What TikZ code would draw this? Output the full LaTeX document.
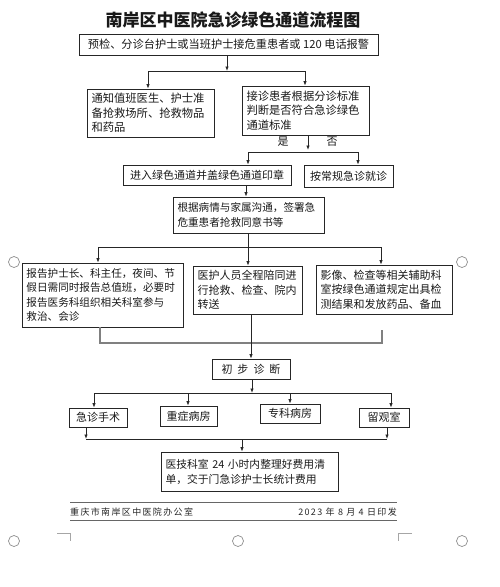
\documentclass[tikz,border=0pt]{standalone}
\usepackage{fontspec}
\setmainfont{Noto Sans CJK SC}
\newfontfamily\footfont{Noto Sans CJK SC}[LetterSpace=15]
\usetikzlibrary{arrows.meta}
\tikzset{
  box/.style={draw=black!85, line width=0.8pt, inner xsep=4pt, inner ysep=1pt, align=left, text=black!90, font=\fontsize{11}{14.5}\selectfont},
  conn/.style={draw=black!85, line width=0.8pt},
  arr/.style={conn, -{Latex[length=4.5pt,width=3.5pt]}},
  bracket/.style={draw=black!50, line width=1.2pt},
  handle/.style={draw=black!45, line width=0.7pt},
  lbl/.style={text=black!90, font=\fontsize{11}{13}\selectfont, inner sep=0pt},
}
\begin{document}
\begin{tikzpicture}[x=1pt,y=-1pt]
\useasboundingbox (0,0) rectangle (500,587);

% title
\node[text=black!90, font=\fontsize{17}{20}\selectfont\bfseries, inner sep=0pt] (title) at (233,20) {南岸区中医院急诊绿色通道流程图};

% boxes
\node[box, minimum width=299pt, minimum height=21pt, align=center, font=\fontsize{11.2}{14}\selectfont] (b1) at (228.5,44.5) {预检、分诊台护士或当班护士接危重患者或 120 电话报警};
\node[box, minimum width=127pt, minimum height=48pt, text width=118pt, font=\fontsize{11.3}{14.5}\selectfont] (b2) at (150.5,113) {通知值班医生、护士准\\备抢救场所、抢救物品\\和药品};
\node[box, minimum width=127pt, minimum height=49pt, text width=118pt, font=\fontsize{11.3}{14.5}\selectfont] (b3) at (305.5,110.5) {接诊患者根据分诊标准\\判断是否符合急诊绿色\\通道标准};
\node[box, minimum width=168pt, minimum height=20pt, align=center] (b4) at (207,175) {进入绿色通道并盖绿色通道印章};
\node[box, minimum width=89pt, minimum height=22pt, align=center] (b5) at (348.5,176) {按常规急诊就诊};
\node[box, minimum width=151pt, minimum height=36pt, text width=142pt, font=\fontsize{10.6}{14.5}\selectfont] (b6) at (248.5,215) {根据病情与家属沟通，签署急\\危重患者抢救同意书等};
\node[box, minimum width=161pt, minimum height=64pt, text width=152pt, font=\fontsize{10.6}{14.6}\selectfont] (b7) at (102.5,295) {报告护士长、科主任，夜间、节\\假日需同时报告总值班，必要时\\报告医务科组织相关科室参与\\救治、会诊};
\node[box, minimum width=109pt, minimum height=48pt, text width=100pt] (b8) at (247.5,290) {医护人员全程陪同进\\行抢救、检查、院内\\转送};
\node[box, minimum width=136pt, minimum height=49pt, text width=127pt] (b9) at (384,289.5) {影像、检查等相关辅助科\\室按绿色通道规定出具检\\测结果和发放药品、备血};
\node[box, minimum width=78pt, minimum height=20pt, align=center] (b10) at (251,369) {初\hspace{5pt}步\hspace{5pt}诊\hspace{5pt}断};
\node[box, minimum width=58pt, minimum height=19pt, align=center] (b11) at (98,417.5) {急诊手术};
\node[box, minimum width=57pt, minimum height=20pt, align=center] (b12) at (188.5,416) {重症病房};
\node[box, minimum width=60pt, minimum height=19pt, align=center] (b13) at (290,413.5) {专科病房};
\node[box, minimum width=50pt, minimum height=19pt, align=center] (b14) at (384,417.5) {留观室};
\node[box, minimum width=177pt, minimum height=39pt, text width=168pt, font=\fontsize{10.8}{15}\selectfont] (b15) at (249.5,471.5) {医技科室 24 小时内整理好费用清\\单，交于门急诊护士长统计费用};

% labels
\node[lbl] (yes) at (283,142) {是};
\node[lbl] (no) at (332,142) {否};

% connectors: b1 -> b2, b3
\coordinate (h1l) at (148,71);
\coordinate (h1r) at (305,71);
\coordinate (j1) at (227,71);
\draw[arr] (j1 |- b1.south) -- (j1);
\draw[conn] (h1l) -- (h1r);
\draw[arr] (h1l) -- (h1l |- b2.north);
\draw[arr] (h1r) -- (h1r |- b3.north);

% b3 -> b4, b5
\coordinate (j2) at (308,150);
\coordinate (h2l) at (248,152);
\coordinate (h2r) at (358,152);
\draw[arr] (j2 |- b3.south) -- (j2);
\draw[conn] (h2l) -- (h2r);
\draw[arr] (h2l) -- (h2l |- b4.north);
\draw[arr] (h2r) -- (h2r |- b5.north);

% b4 -> b6
\coordinate (j3) at (246,190);
\draw[arr] (j3 |- b4.south) -- (j3 |- b6.north);

% b6 -> b7, b8, b9
\coordinate (h3l) at (98,247);
\coordinate (h3m) at (248,247);
\coordinate (h3r) at (381,247);
\draw[conn] (h3m |- b6.south) -- (h3m);
\draw[conn] (h3l) -- (h3r);
\draw[arr] (h3l) -- (h3l |- b7.north);
\draw[arr] (h3m) -- (h3m |- b8.north);
\draw[arr] (h3r) -- (h3r |- b9.north);

% bracket under b7 .. b9
\coordinate (k1) at (100,343);
\coordinate (k2) at (382,343);
\coordinate (k2t) at (382,330);
\draw[bracket] (k1 |- b7.south) -- (k1) -- (k2) -- (k2t);

% b8 -> b10
\coordinate (j4) at (251,340);
\draw[arr] (j4 |- b8.south) -- (j4 |- b10.north);

% b10 -> b11..b14
\coordinate (h4l) at (94,393);
\coordinate (h4m) at (252,393);
\coordinate (h4r) at (391,393);
\coordinate (h4a) at (188,393);
\coordinate (h4b) at (290,393);
\draw[arr] (h4m |- b10.south) -- (h4m);
\draw[conn] (h4l) -- (h4r);
\draw[arr] (h4l) -- (h4l |- b11.north);
\draw[arr] (h4a) -- (h4a |- b12.north);
\draw[arr] (h4b) -- (h4b |- b13.north);
\draw[arr] (h4r) -- (h4r |- b14.north);

% b11, b14 -> b15
\coordinate (m1) at (86,439);
\coordinate (m2) at (387,439);
\coordinate (m3) at (242,439);
\draw[arr] (m1 |- b11.south) -- (m1);
\draw[arr] (m2 |- b14.south) -- (m2);
\draw[conn] (m1) -- (m2);
\draw[arr] (m3) -- (m3 |- b15.north);

% footer
\draw[draw=black!60, line width=1pt] (70,502) -- (397,502);
\draw[draw=black!60, line width=1pt] (70,520) -- (397,520);
\node[anchor=west, inner sep=0pt, text=black!85, font=\footfont\fontsize{9}{10}\selectfont] (fl) at (70,512) {重庆市南岸区中医院办公室};
\node[anchor=east, inner sep=0pt, text=black!85, font=\footfont\fontsize{9}{10}\selectfont] (fr) at (397,512) {2023 年 8 月 4 日印发};

% selection handles and corner marks
\draw[handle] (14,262) circle (5.5);
\draw[handle] (462,262) circle (5.5);
\draw[handle] (14,541) circle (5.5);
\draw[handle] (238,541) circle (5.5);
\draw[handle] (462,541) circle (5.5);
\draw[draw=black!35, line width=0.6pt] (57,533) -- (70,533) -- (70,541);
\draw[draw=black!35, line width=0.6pt] (412,533) -- (398,533) -- (398,541);
\end{tikzpicture}
\end{document}
